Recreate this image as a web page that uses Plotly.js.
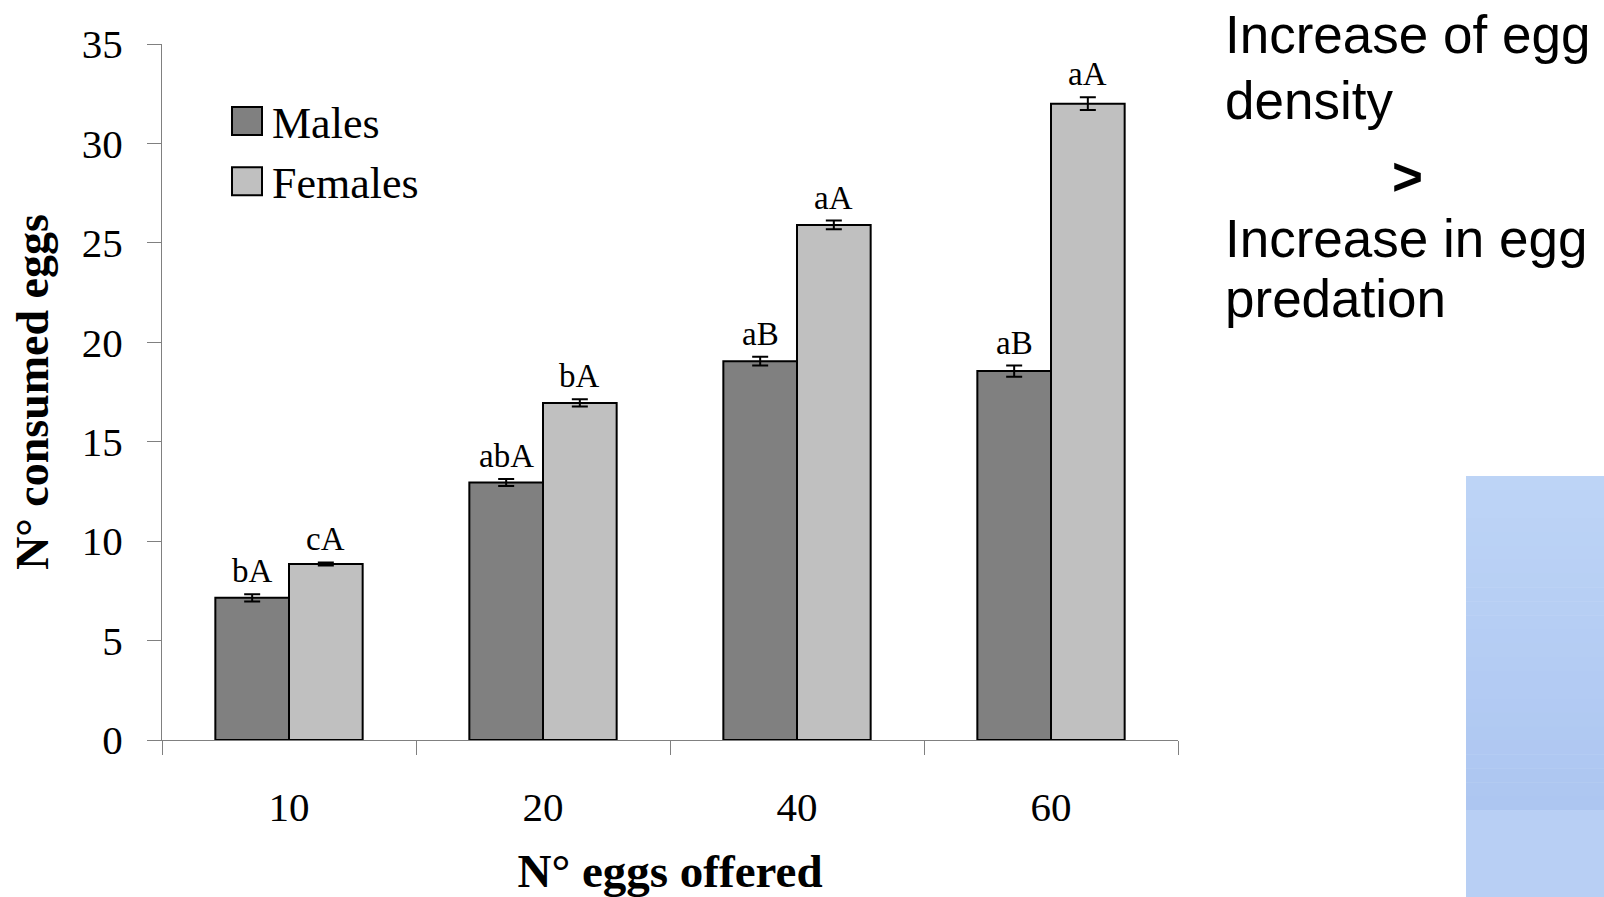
<!DOCTYPE html>
<html><head><meta charset="utf-8">
<script src="https://cdn.plot.ly/plotly-3.0.1.min.js"></script>
<style>html,body{margin:0;padding:0;background:#fff;} #chart{width:1604px;height:897px;}</style>
</head><body><div id="chart"></div>
<script>
// ---- data ----
const categories = ['10', '20', '40', '60'];
const seriesNames = ['Males', 'Females'];
const malesValues = [7.15, 12.95, 19.05, 18.55];
const malesErrors = [0.18, 0.18, 0.22, 0.28];
const femalesValues = [8.85, 16.95, 25.9, 32.0];
const femalesErrors = [0.08, 0.18, 0.22, 0.32];
const malesLabels = ['bA', 'abA', 'aB', 'aB'];
const femalesLabels = ['cA', 'bA', 'aA', 'aA'];
const yTickValues = [0, 5, 10, 15, 20, 25, 30, 35];
const sideNotes = ['Increase of egg', 'density', '>', 'Increase in egg', 'predation'];

// ---- layout geometry ----
const W = 1604, H = 897;
const M = {l: 162, r: 426, t: 44, b: 157};
const plotW = W - M.l - M.r, plotH = H - M.t - M.b;
const bargap = 0.42;
const barHalfPx = plotW / categories.length * (1 - bargap) / 4;
const px2x = px => (px - M.l) / plotW;
const px2y = py => (H - M.b - py) / plotH;

const serif = 'Liberation Serif, Times New Roman, serif';
const sans = 'Liberation Sans, Arial, sans-serif';

const traces = [
  {type: 'bar', name: seriesNames[0], x: categories, y: malesValues,
   marker: {color: '#808080', line: {color: '#000000', width: 2}},
   error_y: {type: 'data', array: malesErrors, visible: true, color: '#000000', thickness: 2, width: 8}},
  {type: 'bar', name: seriesNames[1], x: categories, y: femalesValues,
   marker: {color: '#c0c0c0', line: {color: '#000000', width: 2}},
   error_y: {type: 'data', array: femalesErrors, visible: true, color: '#000000', thickness: 2, width: 8}}
];

const annotations = [];
categories.forEach((c, i) => {
  annotations.push({x: i, y: malesValues[i] + malesErrors[i], xref: 'x', yref: 'y', text: malesLabels[i],
    showarrow: false, xshift: -barHalfPx, yanchor: 'bottom', yshift: 3,
    font: {family: serif, size: 33, color: '#000000'}});
  annotations.push({x: i, y: femalesValues[i] + femalesErrors[i], xref: 'x', yref: 'y', text: femalesLabels[i],
    showarrow: false, xshift: barHalfPx, yanchor: 'bottom', yshift: 3,
    font: {family: serif, size: 33, color: '#000000'}});
});
const noteY = [35, 100, 176, 239, 298];
sideNotes.forEach((t, i) => {
  const isArrow = t === '>';
  annotations.push({xref: 'paper', yref: 'paper', x: isArrow ? px2x(1407) : px2x(1223), y: px2y(noteY[i]),
    xanchor: isArrow ? 'center' : 'left', yanchor: 'middle', showarrow: false,
    text: isArrow ? '<b>' + t + '</b>' : t,
    font: {family: sans, size: 53, color: '#000000'}});
});

// decorative blue panel (soft vertical gradient made of thin bands)
const hex = c => [1, 3, 5].map(k => parseInt(c.substr(k, 2), 16));
const mix = (a, b, t) => 'rgb(' + hex(a).map((v, k) => Math.round(v + (hex(b)[k] - v) * t)).join(',') + ')';
const shapes = [];
const panelTop = 476, panelMid = 810, nBands = 24;
for (let k = 0; k < nBands; k++) {
  const y0 = panelTop + (panelMid - panelTop) * k / nBands;
  const y1 = panelTop + (panelMid - panelTop) * (k + 1) / nBands;
  shapes.push({type: 'rect', xref: 'paper', yref: 'paper', layer: 'below',
    x0: px2x(1466), x1: px2x(1610), y0: px2y(y1 + 0.5), y1: px2y(y0),
    fillcolor: mix('#bdd4f6', '#adc6f1', k / (nBands - 1)), line: {width: 0}});
}
shapes.push({type: 'rect', xref: 'paper', yref: 'paper', layer: 'below',
  x0: px2x(1466), x1: px2x(1610), y0: px2y(905), y1: px2y(panelMid),
  fillcolor: '#b8cff4', line: {width: 0}});

const layout = {
  width: W, height: H, margin: M,
  paper_bgcolor: '#ffffff', plot_bgcolor: '#ffffff',
  barmode: 'group', bargap: bargap, bargroupgap: 0,
  showlegend: true,
  legend: {x: px2x(222), y: px2y(86), xanchor: 'left', yanchor: 'top', bgcolor: 'rgba(0,0,0,0)',
    font: {family: serif, size: 44, color: '#000000'}, itemwidth: 40},
  xaxis: {type: 'category', range: [-0.5, categories.length - 0.5], autorange: false,
    tickson: 'boundaries', ticks: 'outside', ticklen: 14, tickcolor: '#808080', tickwidth: 1,
    showline: true, linecolor: '#808080', linewidth: 1, showgrid: false, zeroline: false, automargin: false,
    ticklabelstandoff: 31, tickangle: 0,
    tickfont: {family: serif, size: 41, color: '#000000'},
    title: {text: '<b>N° eggs offered</b>', standoff: 28, font: {family: serif, size: 47, color: '#000000'}}},
  yaxis: {range: [0, 35], autorange: false, tickvals: yTickValues, ticks: 'outside', ticklen: 14, tickcolor: '#808080', tickwidth: 1,
    showline: true, linecolor: '#808080', linewidth: 1, showgrid: false, zeroline: false, automargin: false,
    ticklabelstandoff: 16,
    tickfont: {family: serif, size: 41, color: '#000000'},
    title: {text: '<b>N° consumed eggs</b>', standoff: 0, font: {family: serif, size: 46, color: '#000000'}}},
  annotations: annotations,
  shapes: shapes
};

Plotly.newPlot('chart', traces, layout, {displayModeBar: false, staticPlot: true}).then(() => {
  document.querySelectorAll('.legendpoints path').forEach(p => {
    p.setAttribute('d', 'M15,14H-15V-14H15Z');
  });
  const yt = document.querySelector('.ytitle');
  if (yt) {
    const tr = yt.getAttribute('transform') || '';
    yt.setAttribute('transform', 'translate(-18,0) ' + tr);
  }
});
</script>
</body></html>
